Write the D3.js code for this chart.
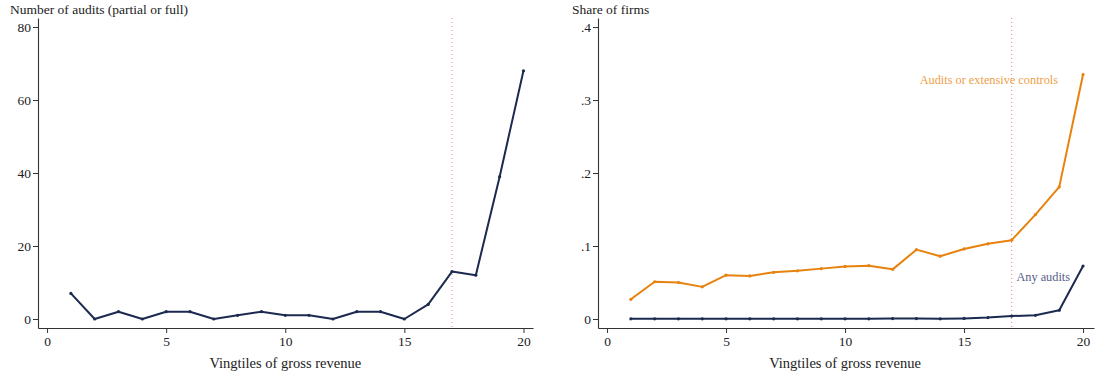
<!DOCTYPE html>
<html>
<head>
<meta charset="utf-8">
<script src="https://cdn.jsdelivr.net/npm/d3@7"></script>
<style>
  html, body { margin: 0; padding: 0; background: #fff; }
  svg text { font-family: "Liberation Serif", "DejaVu Serif", serif; fill: #222; }
</style>
</head>
<body>
<svg id="chart" width="1096" height="378"></svg>
<script>
// ---- Data ----
const vingtiles = d3.range(1, 21);
const auditsCount = [7, 0, 2, 0, 2, 2, 0, 1, 2, 1, 1, 0, 2, 2, 0, 4, 13, 12, 39, 68];
const shareAuditsOrControls = [0.027, 0.051, 0.050, 0.044, 0.060, 0.059, 0.064, 0.066, 0.069, 0.072,
                               0.073, 0.068, 0.095, 0.086, 0.096, 0.103, 0.108, 0.143, 0.181, 0.335];
const shareAnyAudits = [0.0002, 0.0002, 0.0002, 0.0002, 0.0002, 0.0002, 0.0002, 0.0002, 0.0002, 0.0002,
                        0.0002, 0.0006, 0.0006, 0.0002, 0.0008, 0.002, 0.004, 0.005, 0.012, 0.0726];
const xTicks = [0, 5, 10, 15, 20];
const leftYTicks = [0, 20, 40, 60, 80];
const rightYTicks = [0, 0.1, 0.2, 0.3, 0.4];
const rightYTickLabels = ["0", ".1", ".2", ".3", ".4"];
const cutoffVingtile = 17;

const navy = "#1c2a50";
const orange = "#e8820e";
const svg = d3.select("#chart");

function panel(opts) {
  const g = svg.append("g");
  const x = d3.scaleLinear().domain([-0.38, opts.xMaxDom]).range([opts.left, opts.right]);
  const y = d3.scaleLinear().domain(opts.yDom).range([328, 18]);

  // axes
  const xa = g.append("g").attr("transform", "translate(0,328)")
    .call(d3.axisBottom(x).tickValues(xTicks).tickSize(5).tickSizeOuter(0).tickFormat(d3.format("d")));
  const ya = g.append("g").attr("transform", `translate(${opts.left},0)`)
    .call(d3.axisLeft(y).tickValues(opts.yTicks).tickSize(5).tickSizeOuter(0)
      .tickFormat((d, i) => opts.yLabels[i]));
  [xa, ya].forEach(a => {
    a.select(".domain").attr("stroke", "#333").attr("stroke-width", 1.1);
    a.selectAll(".tick line").attr("stroke", "#333").attr("stroke-width", 1);
    a.selectAll(".tick text").attr("font-size", 13.5).attr("fill", "#222")
      .style("font-family", '"Liberation Serif", serif');
  });
  xa.selectAll(".tick text").attr("dy", "0.71em").attr("y", 8);
  ya.selectAll(".tick text").attr("x", -7);

  // titles
  g.append("text").attr("x", opts.titleX).attr("y", 14).attr("font-size", 13.5).text(opts.title);
  g.append("text").attr("x", x(10)).attr("y", 368).attr("text-anchor", "middle")
    .attr("font-size", 14.5).text("Vingtiles of gross revenue");

  // cutoff line
  g.append("line").attr("x1", x(cutoffVingtile)).attr("x2", x(cutoffVingtile))
    .attr("y1", 18).attr("y2", 328)
    .attr("stroke", "#e58a9a").attr("stroke-width", 1).attr("stroke-dasharray", "1,3");

  const line = d3.line().x((d, i) => x(vingtiles[i])).y(d => y(d));
  opts.series.forEach(s => {
    g.append("path").datum(s.values).attr("d", line)
      .attr("fill", "none").attr("stroke", s.color).attr("stroke-width", 2)
      .attr("stroke-linejoin", "round");
    g.selectAll(null).data(s.values).enter().append("circle")
      .attr("cx", (d, i) => x(vingtiles[i])).attr("cy", d => y(d)).attr("r", 1.6)
      .attr("fill", s.color);
  });
  return { g, x, y };
}

panel({
  left: 38, right: 533, xMaxDom: 20.4,
  yDom: [-2.47, 82.47], yTicks: leftYTicks, yLabels: leftYTicks.map(String),
  title: "Number of audits (partial or full)", titleX: 10,
  series: [{ values: auditsCount, color: navy }]
});

const r = panel({
  left: 598, right: 1094, xMaxDom: 20.46,
  yDom: [-0.01235, 0.4124], yTicks: rightYTicks, yLabels: rightYTickLabels,
  title: "Share of firms", titleX: 572,
  series: [{ values: shareAuditsOrControls, color: orange }, { values: shareAnyAudits, color: navy }]
});

r.g.append("text").attr("x", 1058).attr("y", 84).attr("text-anchor", "end")
  .attr("font-size", 12.3).style("fill", "#eea04a").text("Audits or extensive controls");
r.g.append("text").attr("x", 1070).attr("y", 281).attr("text-anchor", "end")
  .attr("font-size", 12.3).style("fill", "#56608a").text("Any audits");
</script>
</body>
</html>
